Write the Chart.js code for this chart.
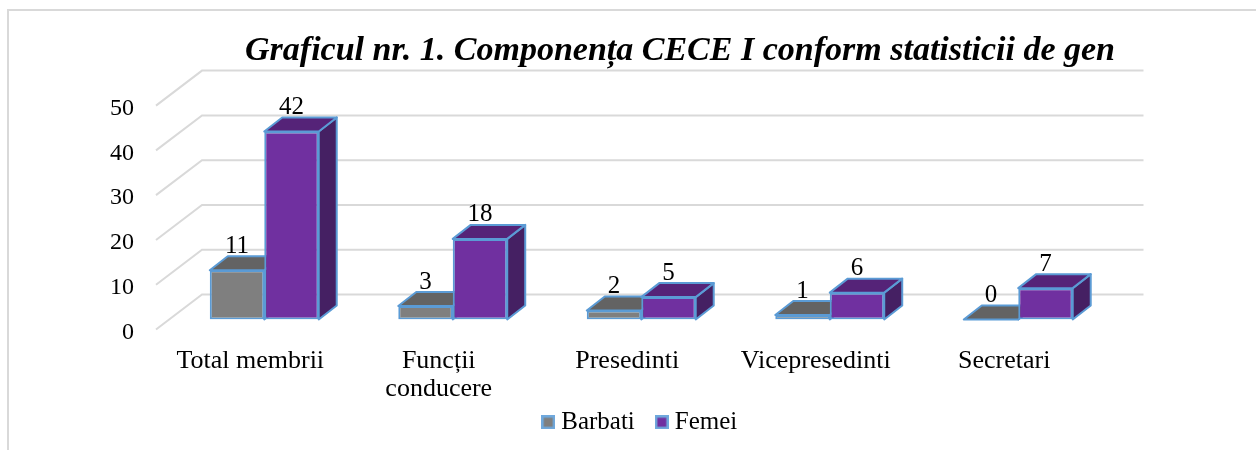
<!DOCTYPE html>
<html><head><meta charset="utf-8">
<script src="https://cdn.jsdelivr.net/npm/chart.js@4"></script>
<style>html,body{margin:0;padding:0;background:#fff}canvas{display:block}</style>
</head><body><canvas id="c" width="1256" height="450"></canvas>
<script>
const titleText = 'Graficul nr. 1. Componența CECE I conform statisticii de gen';
const categories = ['Total membrii', ['Funcții', 'conducere'], 'Presedinti', 'Vicepresedinti', 'Secretari'];
const barbati = [11, 3, 2, 1, 0];
const femei = [42, 18, 5, 6, 7];
const yTicks = [0, 10, 20, 30, 40, 50];

const FONT = '"Liberation Serif", serif';
const EDGE = '#5B9BD5', GRID = '#D9D9D9';
const BAR_DEPTH = {dx: 18, dy: -14};
const FLOOR_FRONT = {dx: -14, dy: 10}, FLOOR_BACK = {dx: 32, dy: -25};
const faces = [{top: '#636363', side: '#4C4C4C'}, {top: '#552378', side: '#452063'}];

function swatch(fill) {
  const c = document.createElement('canvas');
  c.width = 14; c.height = 14;
  const g = c.getContext('2d');
  g.fillStyle = '#6FA8DC'; g.fillRect(0, 0, 14, 14);
  g.fillStyle = fill; g.fillRect(2.5, 2.5, 9, 9);
  return c;
}

const cube3d = {
  id: 'cube3d',
  afterLayout(chart) {
    const place = (box, cx) => { box.left = cx - 500; box.right = cx + 500; };
    place(chart.titleBlock, 680);
    place(chart.legend, 642.5);
    const h = chart.legend.height;
    chart.legend.top = 414 - h / 2;
    chart.legend.bottom = chart.legend.top + h;
    chart.scales.x.bottom = 412;
  },
  beforeDraw(chart) {
    const {ctx, width, height} = chart;
    ctx.save();
    ctx.strokeStyle = GRID; ctx.lineWidth = 2;
    ctx.beginPath(); ctx.moveTo(8, height); ctx.lineTo(8, 10); ctx.lineTo(width, 10); ctx.stroke();
    ctx.restore();
  },
  beforeDatasetsDraw(chart) {
    const {ctx, chartArea, scales} = chart;
    ctx.save();
    ctx.strokeStyle = GRID; ctx.lineWidth = 2;
    yTicks.forEach(v => {
      const y = scales.y.getPixelForValue(v);
      ctx.beginPath();
      ctx.moveTo(chartArea.left + FLOOR_FRONT.dx, y + FLOOR_FRONT.dy);
      ctx.lineTo(chartArea.left + FLOOR_BACK.dx, y + FLOOR_BACK.dy);
      ctx.lineTo(chartArea.right + 31, y + FLOOR_BACK.dy);
      ctx.stroke();
    });
    const {dx, dy} = BAR_DEPTH;
    ctx.strokeStyle = EDGE; ctx.lineWidth = 2; ctx.lineJoin = 'round';
    chart.data.datasets.forEach((ds, i) => {
      chart.getDatasetMeta(i).data.forEach(bar => {
        const l = bar.x - bar.width / 2, r = bar.x + bar.width / 2, t = bar.y, b = bar.base;
        const poly = (pts, fill) => {
          ctx.beginPath();
          pts.forEach((p, k) => k ? ctx.lineTo(p[0], p[1]) : ctx.moveTo(p[0], p[1]));
          ctx.closePath(); ctx.fillStyle = fill; ctx.fill(); ctx.stroke();
        };
        poly([[r, t], [r + dx, t + dy], [r + dx, b + dy], [r, b]], faces[i].side);
        poly([[l, t], [l + dx, t + dy], [r + dx, t + dy], [r, t]], faces[i].top);
      });
    });
    ctx.restore();
  },
  afterDatasetsDraw(chart) {
    const {ctx} = chart;
    ctx.save();
    ctx.fillStyle = '#000'; ctx.font = '25px ' + FONT;
    ctx.textAlign = 'center'; ctx.textBaseline = 'middle';
    chart.data.datasets.forEach((ds, i) => {
      chart.getDatasetMeta(i).data.forEach((bar, j) => {
        ctx.fillText(String(ds.data[j]), bar.x, bar.y - 24);
      });
    });
    ctx.restore();
  }
};

new Chart(document.getElementById('c'), {
  type: 'bar',
  data: {
    labels: categories,
    datasets: [
      {label: 'Barbati', data: barbati, backgroundColor: '#7F7F7F', borderColor: EDGE, borderWidth: 2, borderSkipped: false, pointStyle: swatch('#7F7F7F')},
      {label: 'Femei', data: femei, backgroundColor: '#7030A0', borderColor: EDGE, borderWidth: 2, borderSkipped: false, pointStyle: swatch('#7030A0')}
    ]
  },
  plugins: [cube3d],
  options: {
    responsive: false, animation: false, devicePixelRatio: 1,
    layout: {autoPadding: false, padding: {left: 0, right: 143.5, top: 0, bottom: 0}},
    datasets: {bar: {categoryPercentage: 0.578, barPercentage: 1}},
    scales: {
      x: {
        grid: {display: false, drawTicks: false}, border: {display: false},
        ticks: {color: '#000', font: {family: FONT, size: 26, lineHeight: 1.08}, padding: 28, labelOffset: -14, maxRotation: 0, autoSkip: false},
        afterFit(s) { s.height = 69; }
      },
      y: {
        min: 0, max: 50,
        grid: {display: false, drawTicks: false}, border: {display: false},
        ticks: {color: '#000', font: {family: FONT, size: 24}, stepSize: 10, padding: 36, labelOffset: 13},
        afterFit(s) { s.width = 170; }
      }
    },
    plugins: {
      title: {display: true, text: titleText, color: '#000',
        font: {family: FONT, size: 34, weight: 'bold', style: 'italic', lineHeight: 1.2},
        padding: {top: 31, bottom: 23.8}},
      legend: {position: 'bottom', labels: {color: '#000', font: {family: FONT, size: 25}, usePointStyle: true, pointStyleWidth: 1, boxHeight: 14, padding: 26.5}},
      tooltip: {enabled: false}
    }
  }
});
</script></body></html>
